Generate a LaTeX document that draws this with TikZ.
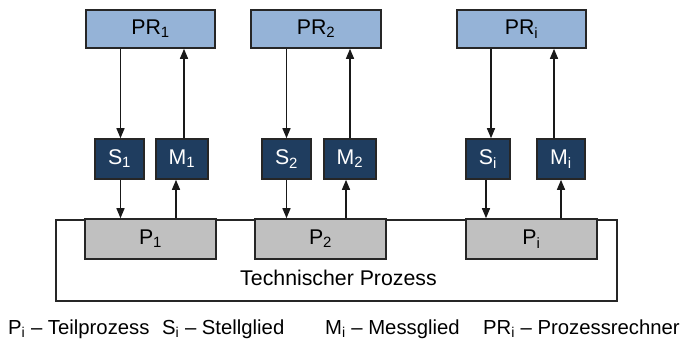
\documentclass[tikz,border=0pt]{standalone}
\usepackage{fontspec}
\setmainfont{Liberation Sans}
\usetikzlibrary{arrows.meta}

\definecolor{prblue}{RGB}{149,179,215}
\definecolor{smnavy}{RGB}{31,61,95}
\definecolor{pgrey}{RGB}{192,192,192}

\begin{document}
\begin{tikzpicture}[
    x=1pt, y=-1pt,
    every node/.style={font=\fontsize{21.3}{25}\selectfont, inner sep=0pt},
    rechner/.style={draw=black!85, fill=prblue, line width=1.6pt, minimum height=38pt},
    glied/.style={draw=black!85, fill=smnavy, text=white, line width=1.6pt, minimum height=40pt},
    teil/.style={draw=black!85, fill=pgrey, line width=1.6pt, minimum width=131pt, minimum height=40pt},
    line/.style={black!90, line width=1.4pt, -{Triangle[length=10pt,width=8pt]}},
    legende/.style={anchor=base west, font=\fontsize{20.3}{24}\selectfont}
]
    \useasboundingbox (0,0) rectangle (698,341);

    % Technischer Prozess
    \node[draw=black!85, line width=1.6pt, anchor=north west,
          minimum width=561pt, minimum height=81pt] (tp) at (55,219) {};
    \node[anchor=base] (tplabel) at (338.5,285) {Technischer Prozess};

    % Prozessrechner, Stell- und Messglieder, Teilprozesse
    \node[rechner, minimum width=129pt] (pr1) at (150.5,29) {PR\textsubscript{1}};
    \node[rechner, minimum width=130pt] (pr2) at (316,29)   {PR\textsubscript{2}};
    \node[rechner, minimum width=129pt] (pri) at (521.5,29) {PR\textsubscript{i}};

    \node[glied, minimum width=49pt] (s1) at (119.5,159) {S\textsubscript{1}};
    \node[glied, minimum width=52pt] (m1) at (182,159)   {M\textsubscript{1}};
    \node[glied, minimum width=49pt] (s2) at (286.5,159) {S\textsubscript{2}};
    \node[glied, minimum width=52pt] (m2) at (350,159)   {M\textsubscript{2}};
    \node[glied, minimum width=44pt] (si) at (488,159)   {S\textsubscript{i}};
    \node[glied, minimum width=48pt] (mi) at (561,159)   {M\textsubscript{i}};

    \node[teil] (p1) at (150.5,239) {P\textsubscript{1}};
    \node[teil] (p2) at (320.5,239) {P\textsubscript{2}};
    \node[teil] (pi) at (531.5,239) {P\textsubscript{i}};

    % Verbindungen
    \foreach \n/\su/\sl/\mu/\ml in {1/1/1/2/-6, 2/0/0/0/-4, i/3/-2/-7/0} {
        \draw[line] ([xshift=\su pt]s\n.north |- pr\n.south) -- ([xshift=\su pt]s\n.north);
        \draw[line] ([xshift=\mu pt]m\n.north) -- ([xshift=\mu pt]m\n.north |- pr\n.south);
        \draw[line] ([xshift=\sl pt]s\n.south) -- ([xshift=\sl pt]s\n.south |- p\n.north);
        \draw[line] ([xshift=\ml pt]m\n.south |- p\n.north) -- ([xshift=\ml pt]m\n.south);
    }

    % Legende
    \node[legende] (legp)  at (8,334)   {P\textsubscript{i} – Teilprozess};
    \node[legende] (legs)  at (162,334) {S\textsubscript{i} – Stellglied};
    \node[legende] (legm)  at (325,334) {M\textsubscript{i} – Messglied};
    \node[legende] (legpr) at (483,334) {PR\textsubscript{i} – Prozessrechner};
\end{tikzpicture}
\end{document}
